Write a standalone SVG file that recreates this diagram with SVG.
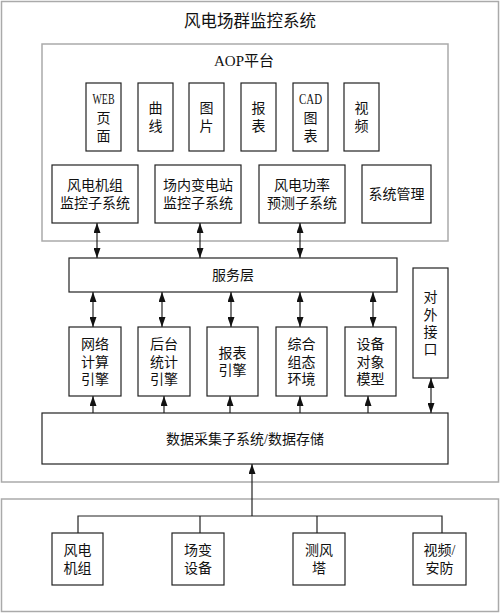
<svg xmlns="http://www.w3.org/2000/svg" width="500" height="613" viewBox="0 0 500 613">
<defs>
<marker id="ah" viewBox="0 0 10 7" markerWidth="10" markerHeight="7" refX="10" refY="3.5" orient="auto-start-reverse" markerUnits="userSpaceOnUse">
<path d="M0,0 L10,3.5 L0,7 z" fill="#111"/>
</marker>
<style>
.frame{fill:none;stroke:#aaa;stroke-width:1.5}
.box{fill:#fff;stroke:#222;stroke-width:1.2}
.t{font-family:"Liberation Serif","Noto Sans CJK SC",serif;font-size:14px;fill:#111;text-anchor:middle}
.big{font-size:16.5px}
.mid{font-size:15px}
.lat{font-size:14px}
.c{stroke:#222;stroke-width:1.2;fill:none}
.a2{marker-start:url(#ah);marker-end:url(#ah)}
.a1{marker-end:url(#ah)}
</style>
</defs>
<rect width="500" height="613" fill="#fff"/>
<rect class="frame" x="1.5" y="1.5" width="497" height="480.5"/>
<rect class="frame" x="1.5" y="499" width="497" height="112.5"/>
<rect class="frame" x="42" y="44" width="406" height="197"/>
<text class="t big" x="250" y="27">风电场群监控系统</text>
<text class="t mid" x="244" y="66">AOP平台</text>

<g id="n-web"><rect class="box" x="86" y="83" width="35" height="68"/><text class="t lat" x="103.5" y="104" textLength="22" lengthAdjust="spacingAndGlyphs">WEB</text><text class="t" x="103.5" y="123">页</text><text class="t" x="103.5" y="141">面</text></g>
<g id="n-curve"><rect class="box" x="138" y="83" width="35" height="68"/><text class="t" x="155.5" y="113">曲</text><text class="t" x="155.5" y="131">线</text></g>
<g id="n-pic"><rect class="box" x="189" y="83" width="35" height="68"/><text class="t" x="206.5" y="113">图</text><text class="t" x="206.5" y="131">片</text></g>
<g id="n-report"><rect class="box" x="241" y="83" width="35" height="68"/><text class="t" x="258.5" y="113">报</text><text class="t" x="258.5" y="131">表</text></g>
<g id="n-cad"><rect class="box" x="293" y="83" width="35" height="68"/><text class="t lat" x="310.5" y="104" textLength="23" lengthAdjust="spacingAndGlyphs">CAD</text><text class="t" x="310.5" y="123">图</text><text class="t" x="310.5" y="141">表</text></g>
<g id="n-video"><rect class="box" x="344" y="83" width="35" height="68"/><text class="t" x="361.5" y="113">视</text><text class="t" x="361.5" y="131">频</text></g>

<g id="n-wtg"><rect class="box" x="52" y="165" width="86" height="58"/><text class="t" x="95" y="190">风电机组</text><text class="t" x="95" y="208">监控子系统</text></g>
<g id="n-sub"><rect class="box" x="155" y="165" width="86" height="58"/><text class="t" x="198" y="190">场内变电站</text><text class="t" x="198" y="208">监控子系统</text></g>
<g id="n-fc"><rect class="box" x="259" y="165" width="86" height="58"/><text class="t" x="302" y="190">风电功率</text><text class="t" x="302" y="208">预测子系统</text></g>
<g id="n-sys"><rect class="box" x="362" y="165" width="69" height="58"/><text class="t" x="396.5" y="199">系统管理</text></g>

<g id="n-svc"><rect class="box" x="69" y="258" width="328" height="34"/><text class="t" x="233" y="280">服务层</text></g>

<g id="n-e1"><rect class="box" x="69" y="327" width="52" height="69"/><text class="t" x="95" y="349">网络</text><text class="t" x="95" y="367">计算</text><text class="t" x="95" y="384">引擎</text></g>
<g id="n-e2"><rect class="box" x="138" y="327" width="52" height="69"/><text class="t" x="164" y="349">后台</text><text class="t" x="164" y="367">统计</text><text class="t" x="164" y="384">引擎</text></g>
<g id="n-e3"><rect class="box" x="207" y="327" width="51" height="69"/><text class="t" x="232.5" y="358">报表</text><text class="t" x="232.5" y="375">引擎</text></g>
<g id="n-e4"><rect class="box" x="276" y="327" width="51" height="69"/><text class="t" x="301.5" y="349">综合</text><text class="t" x="301.5" y="367">组态</text><text class="t" x="301.5" y="384">环境</text></g>
<g id="n-e5"><rect class="box" x="345" y="327" width="51" height="69"/><text class="t" x="370.5" y="349">设备</text><text class="t" x="370.5" y="367">对象</text><text class="t" x="370.5" y="384">模型</text></g>

<g id="n-ext"><rect class="box" x="413" y="268" width="35" height="110"/><text class="t" x="430.5" y="302">对</text><text class="t" x="430.5" y="320">外</text><text class="t" x="430.5" y="337">接</text><text class="t" x="430.5" y="354">口</text></g>

<g id="n-data"><rect class="box" x="42" y="413" width="406" height="51"/><text class="t" x="245" y="444">数据采集子系统/数据存储</text></g>

<g id="n-d1"><rect class="box" x="52" y="533" width="51" height="52"/><text class="t" x="77.5" y="555">风电</text><text class="t" x="77.5" y="573">机组</text></g>
<g id="n-d2"><rect class="box" x="172" y="533" width="52" height="52"/><text class="t" x="198" y="555">场变</text><text class="t" x="198" y="573">设备</text></g>
<g id="n-d3"><rect class="box" x="293" y="533" width="52" height="52"/><text class="t" x="319" y="555">测风</text><text class="t" x="319" y="573">塔</text></g>
<g id="n-d4"><rect class="box" x="413" y="533" width="53" height="52"/><text class="t" x="439.5" y="555">视频/</text><text class="t" x="439.5" y="573">安防</text></g>

<g id="connectors">
<line class="c a2" x1="97" y1="223" x2="97" y2="258"/>
<line class="c a2" x1="200" y1="223" x2="200" y2="258"/>
<line class="c a2" x1="300" y1="223" x2="300" y2="258"/>
<line class="c a2" x1="93" y1="292" x2="93" y2="327"/>
<line class="c a2" x1="162" y1="292" x2="162" y2="327"/>
<line class="c a2" x1="231" y1="292" x2="231" y2="327"/>
<line class="c a2" x1="300" y1="292" x2="300" y2="327"/>
<line class="c a2" x1="373" y1="292" x2="373" y2="327"/>
<line class="c a1" x1="93" y1="413" x2="93" y2="396"/>
<line class="c a1" x1="164" y1="413" x2="164" y2="396"/>
<line class="c a1" x1="230" y1="413" x2="230" y2="396"/>
<line class="c a1" x1="300" y1="413" x2="300" y2="396"/>
<line class="c a1" x1="368" y1="413" x2="368" y2="396"/>
<line class="c a2" x1="431" y1="378" x2="431" y2="413"/>
<line class="c a1" x1="252" y1="516" x2="252" y2="464"/>
<polyline class="c" points="78,533 78,516 442,516 442,533"/>
<line class="c" x1="200" y1="516" x2="200" y2="533"/>
<line class="c" x1="317" y1="516" x2="317" y2="533"/>
</g>
</svg>
